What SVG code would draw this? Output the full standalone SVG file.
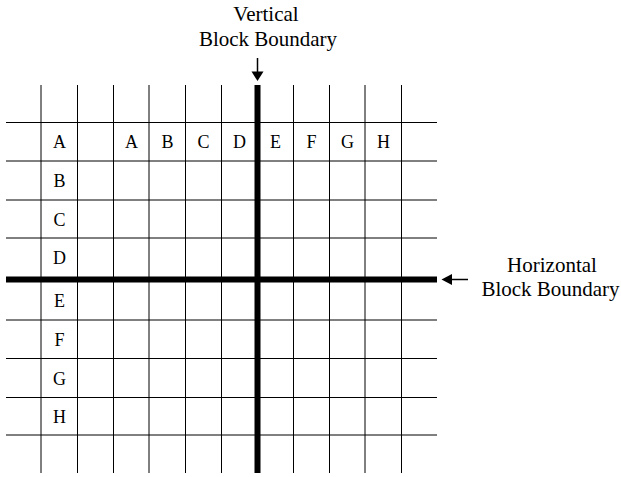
<svg xmlns="http://www.w3.org/2000/svg" width="621" height="477" viewBox="0 0 621 477">
<style>
.g{stroke:#000;stroke-width:1;fill:none}
.b{stroke:#000;stroke-width:6;fill:none}
.c{font-family:"Liberation Serif","Times New Roman",serif;font-size:18px;fill:#000;text-anchor:middle}
.t{font-family:"Liberation Serif","Times New Roman",serif;font-size:21px;fill:#000;text-anchor:middle}
.a{stroke:#000;stroke-width:1.5;fill:none}
</style>
<rect width="621" height="477" fill="#fff"/>
<g id="grid">
<path class="g" d="M41 85V473M77.5 85V473M113.5 85V473M149 85V473M185.5 85V473M221.5 85V473M293.5 85V473M329.5 85V473M365 85V473M401.5 85V473"/>
<path class="g" d="M6 122.5H437M6 161H437M6 200H437M6 238H437M6 320H437M6 358.5H437M6 397.5H437M6 435H437"/>
</g>
<g id="vertical-boundary"><path class="b" d="M257.5 85V473"/></g>
<g id="horizontal-boundary"><path class="b" d="M6 279.5H437"/></g>
<g id="column-labels">
<text class="c" x="131.5" y="148">A</text>
<text class="c" x="167.5" y="148">B</text>
<text class="c" x="203.5" y="148">C</text>
<text class="c" x="239.5" y="148">D</text>
<text class="c" x="275.5" y="148">E</text>
<text class="c" x="311.5" y="148">F</text>
<text class="c" x="347.5" y="148">G</text>
<text class="c" x="383.5" y="148">H</text>
</g>
<g id="row-labels">
<text class="c" x="59.5" y="148">A</text>
<text class="c" x="59.5" y="187">B</text>
<text class="c" x="59.5" y="226">C</text>
<text class="c" x="59.5" y="264">D</text>
<text class="c" x="59.5" y="307">E</text>
<text class="c" x="59.5" y="346">F</text>
<text class="c" x="59.5" y="385">G</text>
<text class="c" x="59.5" y="423">H</text>
</g>
<g id="vertical-label">
<text class="t" x="266" y="21">Vertical</text>
<text class="t" x="268" y="46">Block Boundary</text>
</g>
<g id="horizontal-label">
<text class="t" x="552" y="272">Horizontal</text>
<text class="t" x="550.5" y="296">Block Boundary</text>
</g>
<g id="connectors">
<path class="a" d="M257.5 58V72"/>
<polygon points="251.5,71.5 263.5,71.5 257.5,81"/>
<path class="a" d="M468 279.5H452"/>
<polygon points="452,274 452,285 441.5,279.5"/>
</g>
</svg>
